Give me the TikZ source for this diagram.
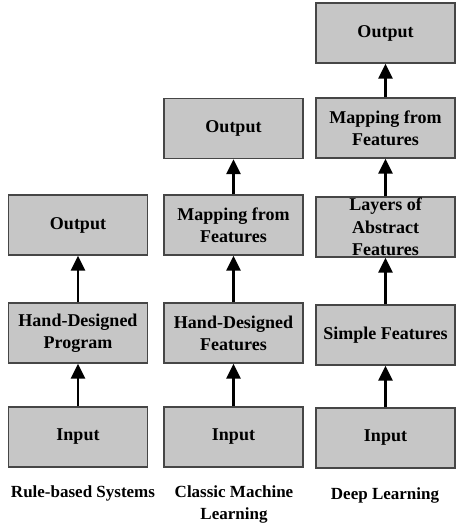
\documentclass[tikz,border=0pt]{standalone}
\usepackage{fontspec}
\setmainfont{Liberation Serif}
\usetikzlibrary{arrows.meta}
\definecolor{boxfill}{RGB}{198,198,198}
\definecolor{boxline}{RGB}{70,70,70}
\begin{document}
\begin{tikzpicture}[x=1pt,y=-1pt,
  stage/.style={draw=boxline, line width=1.3pt, fill=boxfill, minimum width=139pt, minimum height=60pt,
    inner sep=0pt, align=center, font=\fontsize{18}{22}\selectfont\bfseries},
  lbl/.style={align=center, font=\fontsize{17}{22}\selectfont\bfseries},
  flow/.style={-{Triangle[length=15pt,width=14pt]}, line width=2.8pt, black}]
\useasboundingbox (0,0) rectangle (464,529);
% column 1
\node[stage] (o1) at (78,225) {Output};
\node[stage] (h1) at (78,333) {Hand-Designed\\Program};
\node[stage] (i1) at (78,437) {Input};
\node[lbl] (l1) at (83,493) {Rule-based Systems};
% column 2
\node[stage] (o2) at (233.5,128.5) {Output};
\node[stage] (m2) at (233.5,225) {Mapping from\\Features};
\node[stage] (h2) at (233.5,333) {Hand-Designed\\Features};
\node[stage] (i2) at (233.5,437) {Input};
\node[lbl] (l2) at (234,504) {Classic Machine\\Learning};
% column 3
\node[stage] (o3) at (385.5,33) {Output};
\node[stage] (m3) at (385.5,128) {Mapping from\\Features};
\node[stage, font=\fontsize{18}{22.5}\selectfont\bfseries] (a3) at (385.5,227) {Layers of\\Abstract\\Features};
\node[stage] (s3) at (385.5,335) {Simple Features};
\node[stage] (i3) at (385.5,438) {Input};
\node[lbl] (l3) at (385,495) {Deep Learning};
% arrows
\draw[flow] (i1) -- (h1);
\draw[flow] (h1) -- (o1);
\draw[flow] (i2) -- (h2);
\draw[flow] (h2) -- (m2);
\draw[flow] (m2) -- (o2);
\draw[flow] (i3) -- (s3);
\draw[flow] (s3) -- (a3);
\draw[flow] (a3) -- (m3);
\draw[flow] (m3) -- (o3);
\end{tikzpicture}
\end{document}
